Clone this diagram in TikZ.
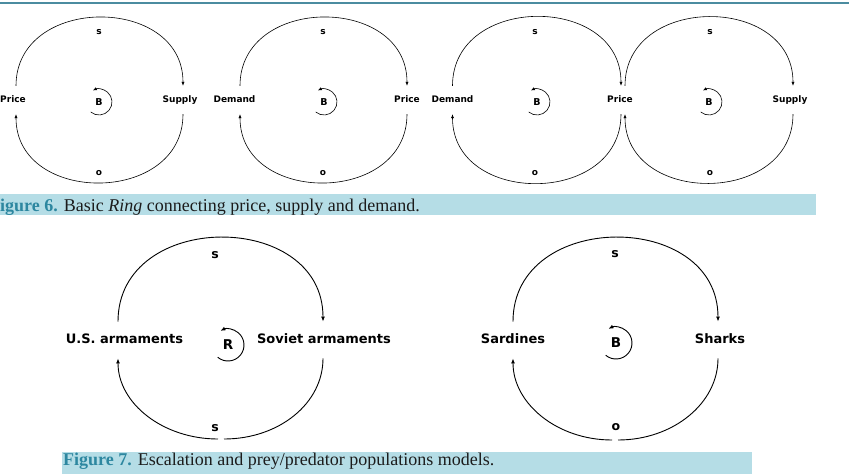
\documentclass[tikz,border=0pt]{standalone}
\usepackage{fontspec}
\setmainfont{Liberation Serif}
\newfontfamily\cldfont{DejaVu Sans}
\usetikzlibrary{arrows.meta}
\definecolor{journalteal}{RGB}{45,135,160}
\definecolor{ruleteal}{RGB}{75,140,160}
\definecolor{captionband}{RGB}{181,221,230}
\definecolor{captiontext}{RGB}{28,28,28}

\begin{document}
\begin{tikzpicture}[
    x=1pt,y=1pt,
    var/.style={font=\cldfont\bfseries\fontsize{9}{10}\selectfont,
      text height=6.5pt,text depth=1.5pt,inner xsep=0pt,inner ysep=10pt},
    bigvar/.style={font=\cldfont\bfseries\fontsize{13}{15}\selectfont,
      text height=10pt,text depth=2.5pt,inner xsep=0pt,inner ysep=12pt},
    sign/.style={font=\cldfont\bfseries\fontsize{9}{10}\selectfont,inner sep=0pt},
    bigsign/.style={font=\cldfont\bfseries\fontsize{12.5}{14}\selectfont,inner sep=0pt},
    loopname/.style={font=\cldfont\bfseries\fontsize{9.5}{11}\selectfont,inner sep=0pt},
    bigloopname/.style={font=\cldfont\bfseries\fontsize{13.5}{15}\selectfont,inner sep=0pt},
    link/.style={-{Latex[length=4pt,width=3.2pt]},line width=0.6pt},
    biglink/.style={-{Latex[length=5pt,width=4pt]},line width=0.9pt},
    over/.style={out=90,in=90,looseness=1.4},
    under/.style={out=-90,in=-90,looseness=1.4},
    caption/.style={font=\fontsize{18}{20}\selectfont,text=captiontext,
      inner sep=0pt,anchor=base west}
  ]
    \useasboundingbox (0,0) rectangle (849,-474);

    % top rule of the page
    \draw[ruleteal,line width=2pt] (0,-3) -- (849,-3);

    % Figure 6: price / supply / demand rings
    \node[var] (price1) at (13,-100) {Price};
    \node[var] (supply1) at (180,-100) {Supply};
    \node[sign] (s1) at (99,-32) {s};
    \node[sign] (o1) at (99,-173) {o};
    \node[loopname] (b1) at (99,-102) {B};

    \node[var] (demand2) at (234.5,-100) {Demand};
    \node[var] (price2) at (407,-100) {Price};
    \node[sign] (s2) at (323,-32) {s};
    \node[sign] (o2) at (323,-173) {o};
    \node[loopname] (b2) at (324,-102) {B};

    \node[var] (demand3) at (452.5,-100) {Demand};
    \node[var] (price3) at (620,-100) {Price};
    \node[sign] (s3) at (535,-32) {s};
    \node[sign] (o3) at (535,-173) {o};
    \node[loopname] (b3) at (537,-102) {B};

    \node[var] (supply4) at (790,-100) {Supply};
    \node[sign] (s4) at (710,-32) {s};
    \node[sign] (o4) at (710,-173) {o};
    \node[loopname] (b4) at (709,-102) {B};

    \draw[link] ([xshift=3pt]price1.north) to[over] ([xshift=3pt]supply1.north);
    \draw[link] ([xshift=3pt]supply1.south) to[under] ([xshift=3pt]price1.south);
    \draw[link] ([xshift=5.5pt]demand2.north) to[over] (price2.north);
    \draw[link] (price2.south) to[under] ([xshift=5.5pt]demand2.south);
    \draw[link] (demand3.north) to[over] ([xshift=1pt]price3.north);
    \draw[link] ([xshift=1pt]price3.south) to[under] (demand3.south);
    \draw[link] ([xshift=5pt]price3.north) to[over] ([xshift=3pt]supply4.north);
    \draw[link] ([xshift=3pt]supply4.south) to[under] ([xshift=5pt]price3.south);

    \foreach \b in {b1,b2,b3,b4}
      \draw[link] ([shift={(-130:13)}]\b.center) arc[start angle=-130,end angle=118,radius=13];

    \fill[captionband] (0,-194) rectangle (816,-215);
    \node[caption] (cap6) at (-11,-211)
      {{\color{journalteal}\bfseries Figure 6.} Basic \textit{Ring} connecting price, supply and demand.};

    % Figure 7: escalation and prey/predator rings
    \node[bigvar] (us) at (124.5,-340) {U.S. armaments};
    \node[bigvar] (soviet) at (324,-340) {Soviet armaments};
    \node[bigsign] (s5) at (215,-255) {s};
    \node[bigsign] (s6) at (215,-428) {s};
    \node[bigloopname] (r5) at (228,-345) {R};
    \coordinate (gapr5) at (224,-439);
    \coordinate (gapl5) at (218,-439);

    \node[bigvar] (sardines) at (513,-340) {Sardines};
    \node[bigvar] (sharks) at (720,-340) {Sharks};
    \node[bigsign] (s7) at (615,-254) {s};
    \node[bigsign] (o7) at (616,-427) {o};
    \node[bigloopname] (b7) at (616,-343) {B};
    \coordinate (gapr7) at (618,-440);
    \coordinate (gapl7) at (612,-440);

    \draw[biglink] ([xshift=-6.5pt]us.north) to[over] ([xshift=-1pt]soviet.north);
    \draw[line width=0.9pt] ([xshift=-1pt]soviet.south) .. controls +(0,-45) and +(55,0) .. (gapr5);
    \draw[biglink] (gapl5) .. controls +(-55,0) and +(0,-45) .. ([xshift=-6.5pt]us.south);
    \draw[biglink] (sardines.north) to[over] ([xshift=-2pt]sharks.north);
    \draw[line width=0.9pt] ([xshift=-2pt]sharks.south) .. controls +(0,-45) and +(55,0) .. (gapr7);
    \draw[biglink] (gapl7) .. controls +(-55,0) and +(0,-45) .. (sardines.south);

    \foreach \b in {r5,b7}
      \draw[biglink] ([shift={(-130:16)}]\b.center) arc[start angle=-130,end angle=118,radius=16];

    \fill[captionband] (62,-452) rectangle (752,-474);
    \node[caption] (cap7) at (63,-465)
      {{\color{journalteal}\bfseries Figure 7.} Escalation and prey/predator populations models.};
  \end{tikzpicture}
\end{document}
